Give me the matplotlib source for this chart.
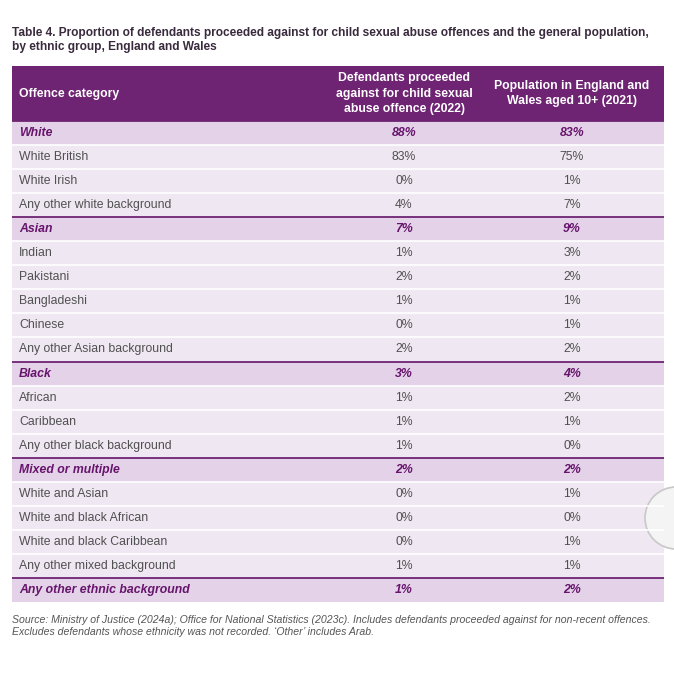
import matplotlib.pyplot as plt
from matplotlib.patches import Rectangle, Circle

plt.rcParams['font.family'] = ['Liberation Sans', 'DejaVu Sans']

title = ("Table 4. Proportion of defendants proceeded against for child sexual abuse offences and the general population,\n"
         "by ethnic group, England and Wales")
col_headers = ["Offence category",
               "Defendants proceeded\nagainst for child sexual\nabuse offence (2022)",
               "Population in England and\nWales aged 10+ (2021)"]

categories = ["White", "White British", "White Irish", "Any other white background",
              "Asian", "Indian", "Pakistani", "Bangladeshi", "Chinese", "Any other Asian background",
              "Black", "African", "Caribbean", "Any other black background",
              "Mixed or multiple", "White and Asian", "White and black African",
              "White and black Caribbean", "Any other mixed background",
              "Any other ethnic background"]
is_group = [True, False, False, False,
            True, False, False, False, False, False,
            True, False, False, False,
            True, False, False, False, False,
            True]
defendants = [88, 83, 0, 4, 7, 1, 2, 1, 0, 2, 3, 1, 1, 1, 2, 0, 0, 0, 1, 1]
population = [83, 75, 1, 7, 9, 3, 2, 1, 1, 2, 4, 2, 1, 0, 2, 1, 0, 1, 1, 2]

source = ("Source: Ministry of Justice (2024a); Office for National Statistics (2023c). Includes defendants proceeded against for non-recent offences.\n"
          "Excludes defendants whose ethnicity was not recorded. \u2018Other\u2019 includes Arab.")

purple = '#6e2373'
group_bg = '#e4d2e8'
sub_bg = '#efe7f2'
group_fg = '#67156c'
text_fg = '#505050'

W, H = 674, 680
fig = plt.figure(figsize=(W / 100, H / 100), dpi=100)
ax = fig.add_axes([0, 0, 1, 1])
ax.set_xlim(0, W)
ax.set_ylim(H, 0)
ax.axis('off')

left, right = 12, 664
col2_x, col3_x = 404, 572
head_top, head_bot = 66, 121
row_h = 24.05

ax.text(left, 40, title, fontsize=8.55, fontweight='bold', color='#3a2a3e',
        va='center', ha='left', linespacing=1.3)

ax.add_patch(Rectangle((left, head_top), right - left, head_bot - head_top,
                       color=purple, lw=0))
hy = (head_top + head_bot) / 2
ax.text(19, hy, col_headers[0], fontsize=8.8, fontweight='bold', color='white',
        va='center', ha='left')
ax.text(col2_x, hy, col_headers[1], fontsize=8.8, fontweight='bold', color='white',
        va='center', ha='center', linespacing=1.35)
ax.text(col3_x, hy, col_headers[2], fontsize=8.8, fontweight='bold', color='white',
        va='center', ha='center', linespacing=1.35)

for i, (cat, grp, d, p) in enumerate(zip(categories, is_group, defendants, population)):
    y0 = head_bot + i * row_h
    yc = y0 + row_h / 2
    ax.add_patch(Rectangle((left, y0), right - left, row_h,
                           color=group_bg if grp else sub_bg, lw=0))
    if grp:
        ax.plot([left, right], [y0, y0], color=purple, lw=1.3, solid_capstyle='butt')
        kw = dict(fontsize=8.8, fontweight='bold', style='italic', color=group_fg)
    else:
        ax.plot([left, right], [y0, y0], color='white', lw=1.2, solid_capstyle='butt')
        kw = dict(fontsize=8.8, color=text_fg)
    ax.text(19, yc, cat, va='center', ha='left', **kw)
    ax.text(col2_x, yc, f"{d}%", va='center', ha='center', **kw)
    ax.text(col3_x, yc, f"{p}%", va='center', ha='center', **kw)

table_bot = head_bot + len(categories) * row_h
ax.text(left, table_bot + 24, source, fontsize=7.6, style='italic', color='#555555',
        va='center', ha='left', linespacing=1.3)

# scroll handle overlay at right edge
ax.add_patch(Circle((676, 518), 31, facecolor='#f4f4f4', edgecolor='#c8c8c8', lw=1.2))

fig.savefig('out.png', dpi=100)
